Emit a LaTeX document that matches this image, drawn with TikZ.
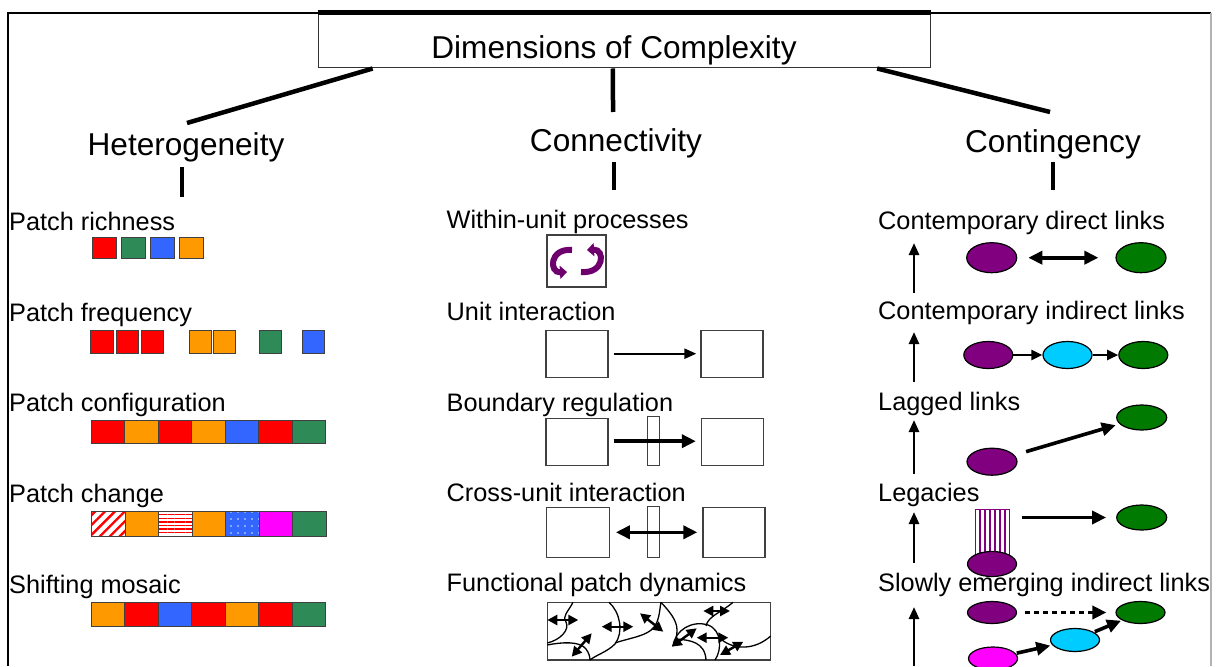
\documentclass[tikz,border=0pt]{standalone}
\usepackage{fontspec}
\setmainfont{Liberation Sans}
\usetikzlibrary{arrows.meta,shapes.geometric,patterns.meta,calc}
\definecolor{patchred}{HTML}{FF0000}
\definecolor{patchgreen}{HTML}{2E8B57}
\definecolor{patchblue}{HTML}{3366FF}
\definecolor{patchorange}{HTML}{FF9900}
\definecolor{patchmagenta}{HTML}{FF00FF}
\definecolor{linkpurple}{HTML}{800080}
\definecolor{linkgreen}{HTML}{007A00}
\definecolor{linkcyan}{HTML}{00CCFF}
\newcommand{\headsize}{\fontsize{31.6}{38}\selectfont}% headings
\newcommand{\itemsize}{\fontsize{25.3}{30}\selectfont}% item labels
\tikzstyle{heading} =[font=\headsize, anchor=base, inner sep=0pt]
\tikzstyle{entry} =[font=\itemsize, anchor=base west, inner sep=0pt]
\tikzstyle{patch} =[draw=black!75, line width=1pt, inner sep=0pt, outer sep=0pt, anchor=north west]
\tikzstyle{unitbox} =[draw=black!75, line width=1.3pt, inner sep=0pt]
\tikzstyle{blob} =[ellipse, draw=black, line width=1.2pt, inner sep=0pt, minimum width=49pt, minimum height=27pt]
\tikzstyle{branch} =[line width=4.5pt]
\tikzstyle{link} =[line width=3.6pt, -{Triangle[length=14pt,width=13pt]}]
\tikzstyle{twoway} =[line width=3.6pt, {Triangle[length=14pt,width=13pt]}-{Triangle[length=14pt,width=13pt]}]
\tikzstyle{flux} =[line width=2.4pt, {Triangle[length=10pt,width=10pt]}-{Triangle[length=10pt,width=10pt]}]
\tikzstyle{uparrow} =[line width=2.6pt, -{Triangle[length=12pt,width=10pt]}]
\begin{document}
\begin{tikzpicture}[x=1pt,y=-1pt]
\useasboundingbox (0,0) rectangle (1222,666);
\draw[line width=1.6pt] (8,666) -- (8,13) -- (1211,13);
\draw[black!30, line width=1.3pt] (1211,13) -- (1211,666);

% title and branches
\node[draw=black!80, line width=1pt, minimum width=612pt, inner xsep=0pt, inner ysep=0pt,
  text height=46pt, text depth=9pt, font=\headsize] (title) at (624,40.5) {Dimensions of Complexity\kern20pt};
\draw[line width=4.5pt] (title.north west) -- (title.north east);
\node[heading] (hetero) at (186,155) {Heterogeneity};
\node[heading] (connect) at (616,151) {Connectivity};
\node[heading] (conting) at (1053,152) {Contingency};
\coordinate (hetTop) at (187,123);
\coordinate (conTop) at (613,112);
\coordinate (ctgTop) at (1050,112);
\draw[branch] ($(title.south west)!0.09!(title.south east)$) -- (hetTop);
\draw[branch] ($(title.south west)!0.482!(title.south east)$) -- (conTop);
\draw[branch] ($(title.south west)!0.913!(title.south east)$) -- (ctgTop);
\coordinate (hetA) at (182,167); \coordinate (hetB) at (182,197);
\coordinate (conA) at (614,162); \coordinate (conB) at (614,190);
\coordinate (ctgA) at (1053,162); \coordinate (ctgB) at (1053,190);
\draw[line width=3.5pt] (hetA) -- (hetB) (conA) -- (conB) (ctgA) -- (ctgB);

% heterogeneity
\node[entry] (rich) at (9,230) {Patch richness};
\node[entry] (freq) at (9,321) {Patch frequency};
\node[entry] (conf) at (9,411.5) {Patch configuration};
\node[entry] (chg) at (9,502.5) {Patch change};
\node[entry] (shift) at (9,593) {Shifting mosaic};
\foreach \c [count=\i from 0] in {patchred,patchgreen,patchblue,patchorange}
  \node[patch, fill=\c, minimum width=24pt, minimum height=21pt] (rich\i) at (92.7+29*\i,237.7) {};
\foreach \x/\c [count=\i from 0] in {90.7/patchred,116/patchred,141/patchred,189/patchorange,
  213.3/patchorange,259.3/patchgreen,302.3/patchblue}
  \node[patch, fill=\c, minimum width=22.5pt, minimum height=23pt] (freq\i) at (\x,330) {};
\foreach \c [count=\i from 0] in {patchred,patchorange,patchred,patchorange,patchblue,patchred,patchgreen}
  \node[patch, fill=\c, minimum width=33.5pt, minimum height=23.5pt] (conf\i) at (91+33.5*\i,420) {};
\foreach \c [count=\i from 0] in {white,patchorange,white,patchorange,patchblue,patchmagenta,patchgreen}
  \node[patch, fill=\c, minimum width=33.5pt, minimum height=25pt] (chg\i) at (91.7+33.5*\i,511.7) {};
\path[pattern={Lines[angle=45,distance=7pt,line width=2.4pt]}, pattern color=patchred] (chg0.south west) rectangle (chg0.north east);
\path[pattern={Lines[angle=0,distance=3.6pt,line width=1.4pt]}, pattern color=patchred] (chg2.south west) rectangle (chg2.north east);
\path[pattern={Dots[distance=7pt,radius=0.8pt]}, pattern color=white!85!patchblue] (chg4.south west) rectangle (chg4.north east);
\foreach \i in {0,2,4}
  \draw[black!75, line width=1pt] (chg\i.south west) rectangle (chg\i.north east);
\foreach \c [count=\i from 0] in {patchorange,patchred,patchblue,patchred,patchorange,patchred,patchgreen}
  \node[patch, fill=\c, minimum width=33.5pt, minimum height=24.5pt] (shift\i) at (91+33.5*\i,602.3) {};

% connectivity
\node[entry] (within) at (446.5,228.5) {Within-unit processes};
\node[entry] (unit) at (446.5,320) {Unit interaction};
\node[entry] (bound) at (446.5,411.5) {Boundary regulation};
\node[entry] (cross) at (446.5,501.5) {Cross-unit interaction};
\node[entry] (func) at (446.5,591.5) {Functional patch dynamics};
\node[unitbox, minimum width=59pt, minimum height=52pt] (wbox) at (576.5,261) {};
\draw[linkpurple!85!black, line width=6pt, -{Triangle[length=7pt,width=13pt]}]
  (572,250) .. controls (549,248) and (549,273) .. (567,272);
\draw[linkpurple!85!black, line width=6pt, -{Triangle[length=7pt,width=13pt]}]
  (581,272) .. controls (605,274) and (605,249) .. (587,250);
\node[unitbox, minimum width=62pt, minimum height=47pt] (uleft) at (577,353.7) {};
\node[unitbox, minimum width=62pt, minimum height=47pt] (uright) at (732,353.7) {};
\draw[line width=2.2pt, -{Triangle[length=12pt,width=10pt]}, shorten <=5pt, shorten >=4pt] (uleft) -- (uright);
\node[unitbox, minimum width=62pt, minimum height=47pt] (bleft) at (577,442.3) {};
\node[unitbox, minimum width=62pt, minimum height=47pt] (bright) at (732.5,442.3) {};
\node[unitbox, minimum width=12pt, minimum height=49pt] (bbar) at (653.3,441.2) {};
\draw[link, shorten <=5pt, shorten >=5pt] (bleft.east |- bbar) -- (bright.west |- bbar);
\node[unitbox, minimum width=63pt, minimum height=50pt] (cleft) at (577.7,532.3) {};
\node[unitbox, minimum width=62pt, minimum height=50pt] (cright) at (734,532.3) {};
\node[unitbox, minimum width=12pt, minimum height=50.6pt] (cbar) at (653.3,532) {};
\draw[twoway, shorten <=6pt, shorten >=5pt] (cleft) -- (cright);
\node[unitbox, minimum width=223.4pt, minimum height=57.7pt] (fbox) at (659,631.2) {};
\begin{scope}[line width=1.3pt]
\draw (573,602.3) .. controls (568,612) and (562,616) .. (566,622) .. controls (570,630) and (560,640) .. (547.3,643);
\draw (547.3,645) .. controls (562,642) and (580,641) .. (586,649) .. controls (589,653) and (590,657) .. (590,660);
\draw (609,602.3) .. controls (620,612) and (624,632) .. (615,644) .. controls (607,652) and (596,655) .. (590,660);
\draw (615,643) .. controls (632,637) and (652,636) .. (657,622) .. controls (660,614) and (660,606) .. (661,602.3);
\draw (661,602.3) .. controls (669,611) and (677,620) .. (677,630) .. controls (677,636) and (676,640) .. (673,646);
\draw (673,646) .. controls (675,630) and (692,620) .. (708,625) .. controls (722,630) and (722,650) .. (715,660);
\draw (676,639) .. controls (690,640) and (705,642) .. (706,660);
\draw (706,626) .. controls (708,616) and (722,612) .. (733,602.3);
\draw (722,640) .. controls (735,650) and (755,650) .. (770.7,636);
\end{scope}
\draw[flux] (547.3,620) -- (578.3,620);
\draw[flux] (601.7,626.7) -- (633.3,626.7);
\draw[flux] (640,613.3) -- (663.3,631.7);
\draw[flux] (571.7,656.7) -- (591.7,633.3);
\draw[flux] (703.3,611) -- (730,611);
\draw[flux] (671.7,646.7) -- (696.7,628.3);
\draw[flux] (696.7,637.7) -- (728.3,637.7);
\draw[flux] (720,655) -- (743.3,641.7);

% contingency
\node[entry] (direct) at (878,229) {Contemporary direct links};
\node[entry] (indirect) at (878,319.5) {Contemporary indirect links};
\node[entry] (lagged) at (878,410) {Lagged links};
\node[entry] (legacy) at (878,501.5) {Legacies};
\node[entry] (slow) at (878,591) {Slowly emerging indirect links};
\foreach \a/\b [count=\i] in {293/243,382/332,474/420,563/512,666/607}{
  \coordinate (upFrom\i) at (914,\a);
  \coordinate (upTo\i) at (914,\b);
  \draw[uparrow] (upFrom\i) -- (upTo\i);
}
\node[blob, fill=linkpurple, minimum width=50pt, minimum height=30pt] (dirP) at (991.7,257.7) {};
\node[blob, fill=linkgreen, minimum width=50pt, minimum height=30pt] (dirG) at (1141,257.7) {};
\draw[twoway, shorten <=11pt, shorten >=17pt] (dirP) -- (dirG);
\node[blob, fill=linkpurple] (indP) at (988.3,355) {};
\node[blob, fill=linkcyan] (indC) at (1067.5,355) {};
\node[blob, fill=linkgreen] (indG) at (1143.3,355) {};
\draw[line width=2.4pt, -{Triangle[length=11pt,width=10pt]}] (indP) -- (indC);
\draw[line width=2.4pt, -{Triangle[length=11pt,width=10pt]}] (indC) -- (indG);
\node[blob, fill=linkgreen, minimum width=50pt, minimum height=25pt] (lagG) at (1141.7,417.5) {};
\node[blob, fill=linkpurple, minimum width=50pt, minimum height=27pt] (lagP) at (992,461.7) {};
\draw[link, shorten <=12pt, shorten >=4pt] (lagP) -- (lagG);
\node[draw=linkpurple, line width=1pt, minimum width=34pt, minimum height=45pt, inner sep=0pt,
  pattern={Lines[angle=90,distance=5pt,line width=2.2pt]}, pattern color=linkpurple] (legBar) at (992,531.7) {};
\node[blob, fill=linkpurple, minimum width=49pt, minimum height=25pt] (legP) at (992,564) {};
\node[blob, fill=linkgreen, minimum width=50pt, minimum height=25pt] (legG) at (1141.7,517.5) {};
\draw[link, shorten <=12pt, shorten >=10pt] (legBar.east |- legG) -- (legG.west);
\node[blob, fill=linkpurple, minimum width=49pt, minimum height=22pt] (slowP) at (992,612.5) {};
\node[blob, fill=linkgreen, minimum width=49pt, minimum height=22pt] (slowG) at (1140.5,612.5) {};
\node[blob, fill=linkcyan, minimum width=49pt, minimum height=23pt] (slowC) at (1075,640) {};
\node[blob, fill=patchmagenta, minimum width=49pt, minimum height=23pt] (slowM) at (993,658.5) {};
\draw[line width=3.6pt, dash pattern=on 5pt off 4pt, -{Triangle[length=14pt,width=13pt]}, shorten <=8pt, shorten >=9pt] (slowP) -- (slowG);
\draw[link, shorten <=1pt, shorten >=2pt] (slowM) -- (slowC);
\draw[link, shorten <=1pt, shorten >=1pt] (slowC) -- (slowG);
\end{tikzpicture}
\end{document}
